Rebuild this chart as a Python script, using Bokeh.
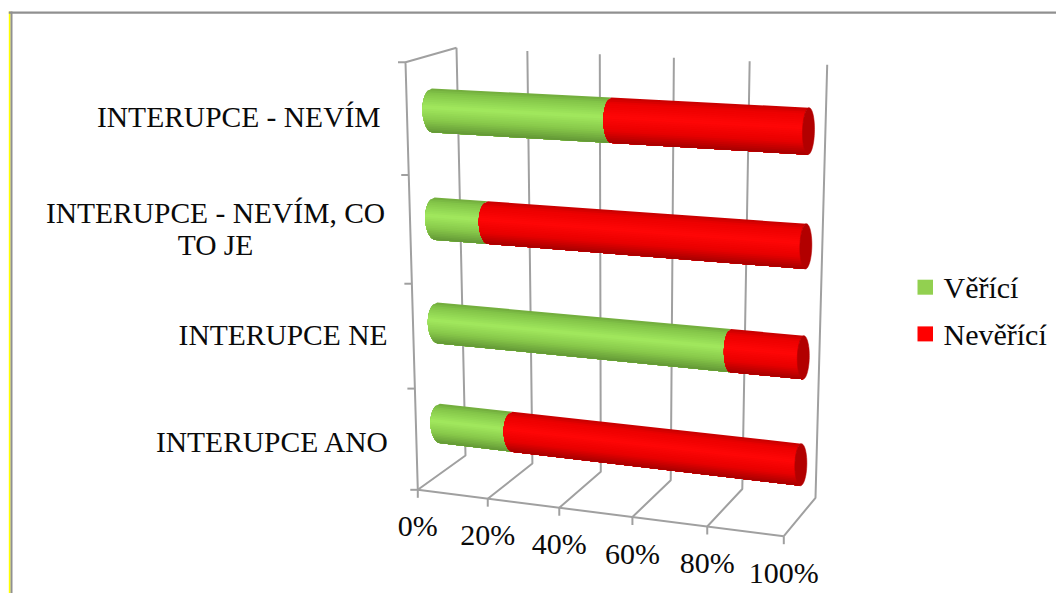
import math
from bokeh.plotting import figure
from bokeh.models import Range1d
from bokeh.core.properties import value
from bokeh.embed import file_html
from bokeh.resources import INLINE

# ---- data (bottom to top, as drawn on the category axis) ----
categories = ["INTERUPCE ANO", "INTERUPCE NE", "INTERUPCE - NEVÍM, CO\nTO JE", "INTERUPCE - NEVÍM"]
veřící = [21, 81, 15, 49]
nevěřící = [79, 19, 85, 51]
tick_labels = ["0%", "20%", "40%", "60%", "80%", "100%"]
tick_values = [0, 20, 40, 60, 80, 100]
series_names = ["Věřící", "Nevěřící"]

# ---- page space: coordinates equal reference-picture pixels ----
W, H = 1056, 593
p = figure(width=W, height=H, output_backend="svg", toolbar_location=None,
           x_range=Range1d(0, W), y_range=Range1d(H, 0),
           min_border=0, outline_line_color=None)
p.axis.visible = False
p.grid.visible = False
p.background_fill_color = "white"
p.border_fill_color = "white"

FONT = value("Liberation Serif")

# ---- 3-D box projection ----
FBL, FBR, FTL, FTR = (417.3, 489.3), (783.3, 535.7), (405.0, 61.7), (792.0, 78.7)
BBL, BBR, BTL, BTR = (465.0, 455.0), (815.0, 497.3), (456.0, 47.3), (826.7, 64.3)


def warp(a, k):
    return a / (1 + k * (1 - a))


def project(u, v, w):
    """u: share 0..1, v: category axis 0..1, w: depth 0 (front)..1 (back)."""
    fu, fv = warp(u, 0.058), warp(v, 0.075)

    def plane(bl, br, tl, tr, i):
        bottom = bl[i] + (br[i] - bl[i]) * fu
        top = tl[i] + (tr[i] - tl[i]) * fu
        return bottom + (top - bottom) * fv

    out = []
    for i in (0, 1):
        front = plane(FBL, FBR, FTL, FTR, i)
        back = plane(BBL, BBR, BTL, BTR, i)
        out.append(front + (back - front) * w)
    return out


# ---- frame ----
p.quad(left=8.3, right=10, top=11, bottom=H, fill_color="#FFFF00", line_color=None)
p.quad(left=10, right=12, top=11, bottom=H, fill_color="#909090", line_color=None)
p.quad(left=8.3, right=W, top=11, bottom=13.3, fill_color="#909090", line_color=None)

# ---- walls and gridlines ----
GRID = "#A0A0A0"
LW = 2
for t in tick_values:
    u = t / 100
    a, b, c = project(u, 1, 1), project(u, 0, 1), project(u, 0, 0)
    p.line([a[0], b[0], c[0]], [a[1], b[1], c[1]], line_color=GRID, line_width=LW)
    p.line([c[0], c[0]], [c[1], c[1] + 8], line_color=GRID, line_width=LW)
a, b = project(0, 0, 0), project(1, 0, 0)
p.line([a[0], b[0]], [a[1], b[1]], line_color=GRID, line_width=LW)
a, b, c = project(0, 0, 0), project(0, 1, 0), project(0, 1, 1)
p.line([a[0], b[0], c[0]], [a[1], b[1], c[1]], line_color=GRID, line_width=LW)
n_cat = len(categories)
for i in range(n_cat + 1):
    a = project(0, i / n_cat, 0)
    p.line([a[0] - 7.5, a[0]], [a[1], a[1]], line_color=GRID, line_width=LW)

# ---- cylinders ----
N_STRIPS = 24
HALF = 0.05
GREEN_STOPS = [(0.0, (112, 170, 60)), (0.1, (130, 196, 72)), (0.42, (162, 233, 94)),
               (0.72, (135, 200, 74)), (1.0, (98, 150, 54))]
RED_STOPS = [(0.0, (196, 0, 0)), (0.12, (235, 0, 0)), (0.42, (255, 6, 6)),
             (0.72, (232, 0, 0)), (1.0, (165, 0, 0))]


def shade(stops, s):
    for (s0, c0), (s1, c1) in zip(stops, stops[1:]):
        if s <= s1:
            f = (s - s0) / (s1 - s0)
            return "#%02X%02X%02X" % tuple(round(x + (y - x) * f) for x, y in zip(c0, c1))
    return "#%02X%02X%02X" % stops[-1][1]


def ellipse_half_width(u):
    return 10 - 4 * u


def edge_point(u, t, v):
    q = project(u, v + HALF * t, 0.5)
    return q[0] - ellipse_half_width(u) * math.sqrt(max(0, 1 - t * t)), q[1]


def segment(u0, u1, v, stops):
    # Each strip runs down to the bar's lower edge and is covered by the next one.
    for k in range(N_STRIPS):
        t_top = 1 - 2 * k / N_STRIPS
        ts = [t_top - (t_top + 1) * j / 16 for j in range(17)]
        xs = [edge_point(u1, t, v)[0] for t in ts] + [edge_point(u0, t, v)[0] for t in reversed(ts)]
        ys = [edge_point(u1, t, v)[1] for t in ts] + [edge_point(u0, t, v)[1] for t in reversed(ts)]
        col = shade(stops, (k + 0.5) / N_STRIPS)
        p.patch(xs, ys, fill_color=col, line_color=None)


for i, (g, r) in enumerate(zip(veřící, nevěřící)):
    v = (i + 0.5) / n_cat
    share = g / (g + r)
    segment(0, share, v, GREEN_STOPS)
    segment(share, 1, v, RED_STOPS)
    cx, cy = [], []
    for k in range(73):
        th = 2 * math.pi * k / 72
        q = project(1, v + HALF * math.sin(th), 0.5)
        cx.append(q[0] + ellipse_half_width(1) * math.cos(th))
        cy.append(q[1])
    p.patch(cx, cy, fill_color="#B20000", line_color="#B20000", line_width=0.5)

# ---- category labels ----
label_anchor = [(389, 441, "right"), (387, 334, "right"), (215, 212, "center"), (380, 116, "right")]
for cat, (x, y, al) in zip(categories, label_anchor):
    for j, line in enumerate(cat.split("\n")):
        p.text([x], [y + 32 * j], text=[line], text_font=FONT, text_font_size="29.5px",
               text_color="#0A0A0A", text_align=al, text_baseline="alphabetic")

# ---- value-axis labels ----
for t, lab in zip(tick_values, tick_labels):
    q = project(t / 100, 0, 0)
    p.text([q[0]], [q[1] + 36], text=[lab], text_font=FONT, text_font_size="30px",
           text_color="#0A0A0A", text_align="center", text_baseline="middle")

# ---- legend ----
legend_colors = ["#92D050", "#FF0000"]
legend_y = [286.7, 333.4]
for name, col, y in zip(series_names, legend_colors, legend_y):
    p.quad(left=917, right=932.5, top=y - 7.5, bottom=y + 7.5, fill_color=col, line_color=None)
    p.text([943], [y + 0.5], text=[name], text_font=FONT, text_font_size="30px",
           text_color="#0A0A0A", text_align="left", text_baseline="alphabetic")

open("out.html", "w").write(file_html(p, INLINE))
